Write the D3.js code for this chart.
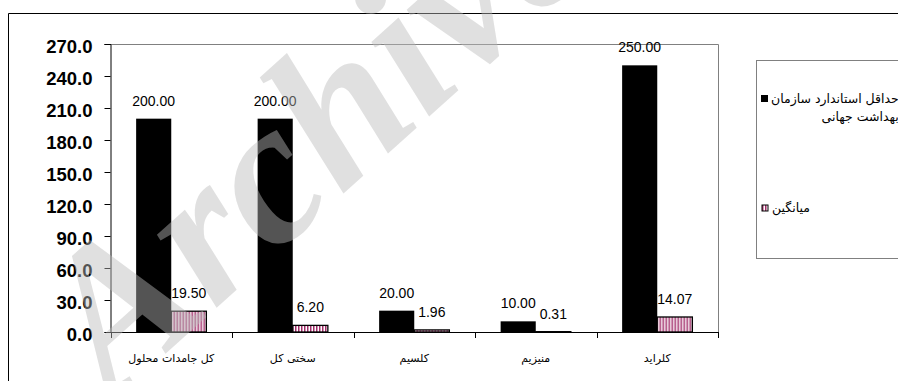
<!DOCTYPE html>
<html>
<head>
<meta charset="utf-8">
<script src="https://cdn.jsdelivr.net/npm/d3@7"></script>
<style>
  body { margin: 0; background: #fff; }
  svg { display: block; }
  .tick text { font-family: "Liberation Sans", Arial, sans-serif; }
</style>
</head>
<body>
<div id="chart"></div>
<script>
const categories = ['کل جامدات محلول', 'سختی کل', 'کلسیم', 'منیزیم', 'کلراید'];
const seriesNames = ['حداقل استاندارد سازمان بهداشت جهانی', 'میانگین'];
const standardValues = [200, 200, 20, 10, 250];
const meanValues = [19.5, 6.2, 1.96, 0.31, 14.07];
const yTicks = [0, 30, 60, 90, 120, 150, 180, 210, 240, 270];

const W = 898, H = 381;
const plot = { left: 110.5, right: 718, top: 44, bottom: 332 };

var svg = d3.select('#chart')
  .append('svg')
  .attr('width', W)
  .attr('height', H);

// vertical stripe pattern for the mean series
var defs = svg.append('defs');
var pat = defs.append('pattern')
  .attr('id', 'stripes')
  .attr('patternUnits', 'userSpaceOnUse')
  .attr('width', 3)
  .attr('height', 6);
pat.append('rect').attr('width', 3).attr('height', 6).attr('fill', '#fff');
pat.append('rect').attr('x', 0).attr('width', 1.5).attr('height', 6).attr('fill', '#a02c68');

// outer frame (only top and left visible)
svg.append('line').attr('x1', 8.5).attr('x2', W).attr('y1', 13.5).attr('y2', 13.5)
  .attr('stroke', '#000');
svg.append('line').attr('x1', 8.5).attr('x2', 8.5).attr('y1', 13.5).attr('y2', H)
  .attr('stroke', '#000');

var y = d3.scaleLinear().domain([0, 270]).range([plot.bottom, plot.top]);
var x0 = d3.scaleBand().domain(categories).range([plot.left, plot.right]).padding(0);
var x1 = d3.scaleBand().domain(seriesNames).range([0, x0.bandwidth()])
  .paddingInner(0).paddingOuter(0.73);

// plot area border, top and right in gray
svg.append('path')
  .attr('d', `M${plot.left},${plot.top + 0.5}H${plot.right + 0.5}V${plot.bottom}`)
  .attr('fill', 'none')
  .attr('stroke', '#808080');

var rows = categories.map((c, i) => ({ cat: c, vals: [standardValues[i], meanValues[i]] }));

var groups = svg.selectAll('g.cat')
  .data(rows)
  .enter()
  .append('g')
  .attr('class', 'cat')
  .attr('transform', d => `translate(${x0(d.cat)},0)`);

groups.selectAll('rect')
  .data(d => d.vals.map((v, j) => ({ s: seriesNames[j], v: v, j: j })))
  .enter()
  .append('rect')
  .attr('x', d => x1(d.s))
  .attr('width', x1.bandwidth())
  .attr('y', d => y(d.v))
  .attr('height', d => plot.bottom - y(d.v))
  .attr('fill', d => d.j === 0 ? '#000' : 'url(#stripes)')
  .attr('stroke', d => d.j === 0 ? 'none' : '#000')
  .attr('stroke-width', 1.3);

groups.selectAll('text.val')
  .data(d => d.vals.map((v, j) => ({ s: seriesNames[j], v: v, j: j })))
  .enter()
  .append('text')
  .attr('class', 'val')
  .attr('x', d => x1(d.s) + x1.bandwidth() / 2)
  .attr('y', d => y(d.v) - 13)
  .attr('text-anchor', 'middle')
  .style('font-family', '"Liberation Sans", Arial, sans-serif')
  .style('font-size', '14px')
  .text(d => d3.format('.2f')(d.v));

// y axis
var yAxis = d3.axisLeft(y)
  .tickValues(yTicks)
  .tickSize(6)
  .tickPadding(12)
  .tickFormat(d3.format('.1f'));

var gy = svg.append('g')
  .attr('transform', `translate(${plot.left},0)`)
  .call(yAxis);
gy.selectAll('text')
  .style('font-size', '18.5px')
  .style('font-weight', 'bold')
  .attr('dy', '0.45em')
  .attr('fill', '#000');
gy.selectAll('line, path').attr('stroke', '#000');

// x axis: labels centered in bands, ticks at band edges
var xAxis = d3.axisBottom(x0).tickSize(0).tickPadding(0);
var gx = svg.append('g')
  .attr('transform', `translate(0,${plot.bottom})`)
  .call(xAxis);
gx.select('.domain').attr('stroke', '#000');
gx.selectAll('text')
  .attr('y', 30)
  .attr('dy', 0)
  .attr('fill', '#000')
  .style('font-family', '"DejaVu Sans", sans-serif')
  .style('font-size', '11px');

var edges = categories.map(c => x0(c)).concat([plot.right]);
gx.selectAll('line.edge')
  .data(edges)
  .enter()
  .append('line')
  .attr('class', 'edge')
  .attr('x1', d => Math.round(d) + 0.5)
  .attr('x2', d => Math.round(d) + 0.5)
  .attr('y1', 0)
  .attr('y2', 6)
  .attr('stroke', '#000');

// legend
var lg = svg.append('g');
lg.append('rect')
  .attr('x', 756.5).attr('y', 60.5)
  .attr('width', 200).attr('height', 198)
  .attr('fill', '#fff')
  .attr('stroke', '#808080');

lg.append('rect').attr('x', 761).attr('y', 95).attr('width', 7).attr('height', 7)
  .attr('fill', '#000');
lg.append('rect').attr('x', 762).attr('y', 205).attr('width', 6).attr('height', 6)
  .attr('fill', 'url(#stripes)').attr('stroke', '#000');

var legFont = '"DejaVu Sans", sans-serif';
var words = seriesNames[0].split(' ');
var line1 = lg.append('text')
  .attr('x', 771).attr('y', 103)
  .attr('text-anchor', 'start')
  .style('font-family', legFont).style('font-size', '12.5px')
  .text(words.slice(0, 3).join(' '));
var w1 = line1.node().getComputedTextLength();
lg.append('text')
  .attr('x', 771 + w1).attr('y', 121)
  .attr('text-anchor', 'end')
  .style('font-family', legFont).style('font-size', '12.5px')
  .text(words.slice(3).join(' '));
lg.append('text')
  .attr('x', 772).attr('y', 212)
  .attr('text-anchor', 'start')
  .style('font-family', legFont).style('font-size', '12.5px')
  .text(seriesNames[1]);

// watermark
svg.append('text')
  .attr('transform', 'translate(112,402) rotate(-42)')
  .style('font-family', '"Liberation Serif", "DejaVu Serif", serif')
  .style('font-style', 'italic')
  .style('font-weight', 'bold')
  .style('font-size', '205px')
  .attr('fill', '#bbbbbb')
  .attr('fill-opacity', 0.45)
  .text('Archive');
</script>
</body>
</html>
